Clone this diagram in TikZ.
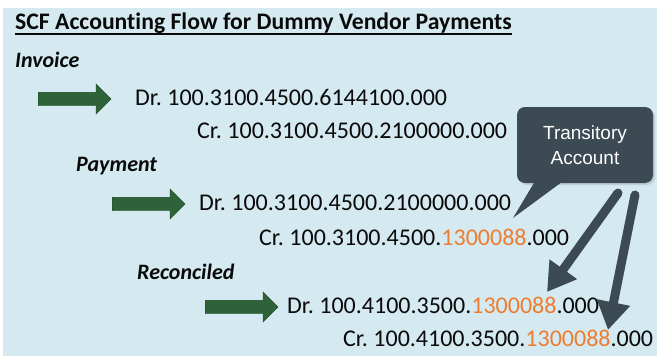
\documentclass[tikz,border=0pt]{standalone}
\usepackage{fontspec}
\setmainfont{Carlito}[Ligatures=NoCommon]
\newfontfamily\arialfont{Liberation Sans}
\usetikzlibrary{shapes.arrows,arrows.meta,shadows}

\definecolor{bgblue}{RGB}{212,234,240}
\definecolor{arrowgreen}{RGB}{46,98,56}
\definecolor{slate}{RGB}{60,74,84}
\definecolor{acctorange}{RGB}{237,125,49}
\definecolor{inktext}{RGB}{10,10,10}

\newcommand{\segm}[1]{\textcolor{acctorange}{#1}}
\frenchspacing

\tikzset{
  entry/.style={anchor=base west, inner sep=0pt, text=inktext, font=\fontsize{24}{28}\selectfont},
  heading/.style={anchor=base west, inner sep=0pt, text=inktext, font=\fontsize{22}{26}\selectfont\bfseries\itshape},
  greenarrow/.style={single arrow, fill=arrowgreen, draw=arrowgreen!70!black, inner sep=0pt,
    inner ysep=6.5pt, single arrow head extend=8.5pt, minimum height=73pt, anchor=west},
  pointer/.style={draw=slate, line width=9pt, line cap=round, -{Triangle[width=32pt,length=28pt]}},
}

\begin{document}
\begin{tikzpicture}[x=1pt,y=-1pt]
    \useasboundingbox (0,0) rectangle (657,356);
    \fill[bgblue] (3,8) rectangle (657,356);
    % title
    \node[anchor=base west, inner sep=0pt, text=inktext, font=\fontsize{23.7}{28}\selectfont\bfseries] (title) at (15,30)
      {SCF Account\kern0pt ing Flow for Dummy Vendor Payments};
    \draw[inktext, line width=1.6pt] ([yshift=-4pt]title.base west) -- ([yshift=-4pt]title.base east);
    % invoice
    \node[heading] (invoice) at (15,67) {Invoice};
    \node[greenarrow] (arr1) at (38,99) {};
    \node[entry] (dr1) at (135,105) {Dr. 100.3100.4500.6144100.000};
    \node[entry] (cr1) at (197,138) {Cr. 100.3100.4500.2100000.000};
    % payment
    \node[heading] (payment) at (76,171) {Payment};
    \node[greenarrow] (arr2) at (112,204) {};
    \node[entry] (dr2) at (199,210) {Dr. 100.3100.4500.2100000.000};
    \node[entry] (cr2) at (259,245) {Cr. 100.3100.4500.\segm{1300088}.000};
    % reconciled
    \node[heading] (reconciled) at (137,279) {Reconciled};
    \node[greenarrow] (arr3) at (205,307) {};
    \node[entry] (dr3) at (287,313) {Dr. 100.4100.3500.\segm{1300088}.000};
    \node[entry] (cr3) at (343,346) {Cr. 100.4100.3500.\segm{1300088}.000};
    % callout
    \node[rectangle, rounded corners=8pt, fill=slate, text=white, minimum width=136pt, minimum height=76pt,
      align=center, font=\arialfont\fontsize{19}{25}\selectfont,
      drop shadow={opacity=0.25, shadow xshift=2pt, shadow yshift=-2pt}] (ta) at (585,145) {Transitory\\Account};
    \coordinate (tailtip) at (513,218);
    \fill[slate] ([xshift=-50pt,yshift=2pt]ta.south) -- (tailtip) -- ([xshift=-22pt,yshift=2pt]ta.south) -- cycle;
    \coordinate (srcA) at (618,193);
    \coordinate (srcB) at (635,195);
    \coordinate (dstA) at (547,292);
    \coordinate (dstB) at (608,330);
    \draw[pointer] (srcA) -- (dstA);
    \draw[pointer] (srcB) -- (dstB);
\end{tikzpicture}
\end{document}
